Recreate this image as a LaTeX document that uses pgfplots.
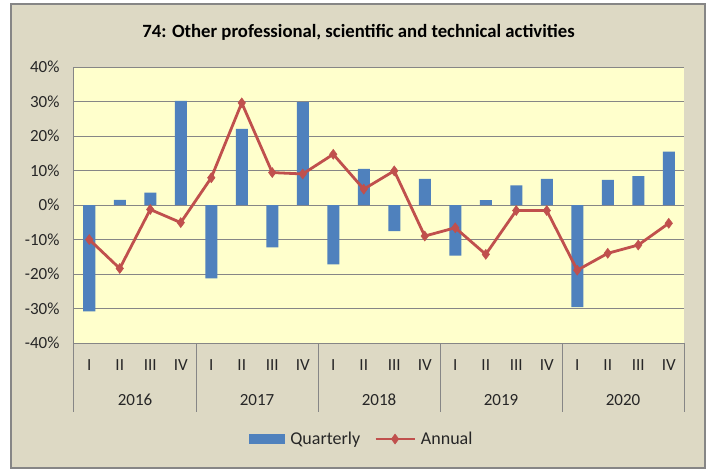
\documentclass[border=0pt]{standalone}
\usepackage{pgfplots}
\pgfplotsset{compat=1.18}
\usepackage{fontspec}
\setmainfont{Carlito}
\definecolor{barblue}{HTML}{4F81BD}
\definecolor{linered}{HTML}{C0504D}
\definecolor{plotbg}{HTML}{FFFFCC}
\definecolor{chartbg}{HTML}{DDD9C4}
\definecolor{gridgray}{HTML}{868686}
\definecolor{txt}{HTML}{262626}

\begin{document}
\begin{tikzpicture}
\fill[white] (0pt,0pt) rectangle (711pt,471pt);
\draw[gridgray, line width=2pt, fill=chartbg] (11pt,3pt) rectangle (705pt,467pt);
\node[font=\fontsize{18.7}{22}\selectfont\bfseries, text=black] at (358.5pt,439pt) {74: Other professional, scientific and technical activities};

\begin{axis}[
    at={(74pt,128pt)}, anchor=south west,
    width=610pt, height=276pt, scale only axis,
    xmin=-0.5, xmax=19.5,
    ymin=-40, ymax=40,
    ytick={-40,-30,...,40},
    yticklabel={\pgfmathprintnumber[assume math mode=true]{\tick}\%},
    xtick={0,...,19},
    xticklabels={I,II,III,IV,I,II,III,IV,I,II,III,IV,I,II,III,IV,I,II,III,IV},
    major tick length=0pt,
    axis x line*=bottom, axis y line*=left,
    axis line style={gridgray, line width=1pt},
    ymajorgrids, grid style={gridgray, line width=1pt},
    axis background/.style={fill=plotbg},
    tick label style={font=\fontsize{17}{20}\selectfont, text=txt},
    yticklabel style={xshift=-11pt},
    xticklabel style={anchor=base, yshift=-27.5pt, inner sep=0pt},
    clip=false,
    legend columns=2,
    legend style={at={(0.472,-0.348)}, anchor=center, draw=none, fill=none,
        font=\fontsize{18}{21}\selectfont, text=txt,
        /tikz/every odd column/.append style={column sep=3pt},
        /tikz/every even column/.append style={column sep=12pt}},
]
\addplot[ybar, bar width=12pt, fill=barblue, draw=none,
    legend image code/.code={\fill[barblue] (0pt,-5pt) rectangle (36pt,5pt);}]
coordinates {
(0,-30.8)(1,1.5)(2,3.6)(3,30.2)
(4,-21.3)(5,22.1)(6,-12.3)(7,29.8)
(8,-17.2)(9,10.5)(10,-7.6)(11,7.6)
(12,-14.7)(13,1.4)(14,5.7)(15,7.6)
(16,-29.6)(17,7.3)(18,8.4)(19,15.5)
};
\addlegendentry{Quarterly}
\addplot[linered, line width=2.8pt, mark=diamond*, mark size=5pt,
    mark options={solid, fill=linered, line width=0.5pt},
    legend image code/.code={
      \draw[linered, line width=2.8pt] (0pt,0pt) -- (39pt,0pt);
      \draw[linered, line width=0.5pt, mark=diamond*, mark size=5pt, mark options={fill=linered}] plot coordinates {(19.5pt,0pt)};
    }]
coordinates {
(0,-10.0)(1,-18.4)(2,-1.3)(3,-5.1)
(4,7.9)(5,29.6)(6,9.4)(7,9.0)
(8,14.7)(9,4.6)(10,9.9)(11,-9.0)
(12,-6.6)(13,-14.3)(14,-1.6)(15,-1.6)
(16,-18.9)(17,-14.0)(18,-11.6)(19,-5.3)
};
\addlegendentry{Annual}

\draw[gridgray, line width=1pt] (axis cs:-0.5,-40) -- ([yshift=-69pt]axis cs:-0.5,-40);
\draw[gridgray, line width=1pt] (axis cs:3.5,-40) -- ([yshift=-69pt]axis cs:3.5,-40);
\draw[gridgray, line width=1pt] (axis cs:7.5,-40) -- ([yshift=-69pt]axis cs:7.5,-40);
\draw[gridgray, line width=1pt] (axis cs:11.5,-40) -- ([yshift=-69pt]axis cs:11.5,-40);
\draw[gridgray, line width=1pt] (axis cs:15.5,-40) -- ([yshift=-69pt]axis cs:15.5,-40);
\draw[gridgray, line width=1pt] (axis cs:19.5,-40) -- ([yshift=-69pt]axis cs:19.5,-40);
\node[anchor=base, font=\fontsize{17}{20}\selectfont, text=txt, inner sep=0pt] at ([yshift=-62.5pt]axis cs:1.5,-40) {2016};
\node[anchor=base, font=\fontsize{17}{20}\selectfont, text=txt, inner sep=0pt] at ([yshift=-62.5pt]axis cs:5.5,-40) {2017};
\node[anchor=base, font=\fontsize{17}{20}\selectfont, text=txt, inner sep=0pt] at ([yshift=-62.5pt]axis cs:9.5,-40) {2018};
\node[anchor=base, font=\fontsize{17}{20}\selectfont, text=txt, inner sep=0pt] at ([yshift=-62.5pt]axis cs:13.5,-40) {2019};
\node[anchor=base, font=\fontsize{17}{20}\selectfont, text=txt, inner sep=0pt] at ([yshift=-62.5pt]axis cs:17.5,-40) {2020};
\end{axis}
\end{tikzpicture}
\end{document}
